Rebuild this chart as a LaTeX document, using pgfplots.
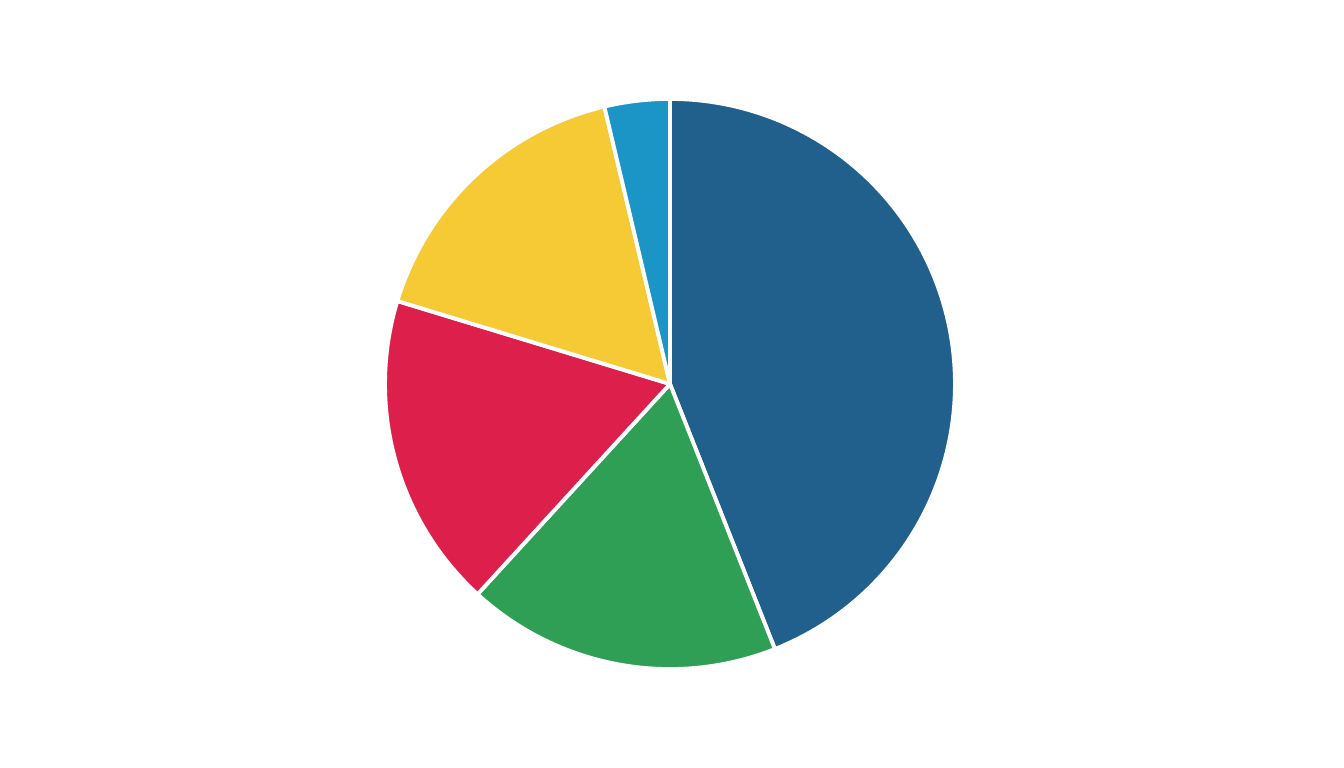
\documentclass[border=0pt]{standalone}
\usepackage{pgfplots}
\pgfplotsset{compat=1.18}

\definecolor{pblue}{HTML}{215F8D}
\definecolor{pgreen}{HTML}{2F9F55}
\definecolor{pred}{HTML}{DD1F4B}
\definecolor{pyellow}{HTML}{F5CA35}
\definecolor{plight}{HTML}{1A95C6}

% slice shares in percent, clockwise from 12 o'clock
\def\sA{44.0}
\def\sB{17.8}
\def\sC{17.9}
\def\sD{16.6}
\def\sE{3.7}

\pgfmathsetmacro\aA{90}
\pgfmathsetmacro\aB{\aA-3.6*\sA}
\pgfmathsetmacro\aC{\aB-3.6*\sB}
\pgfmathsetmacro\aD{\aC-3.6*\sC}
\pgfmathsetmacro\aE{\aD-3.6*\sD}
\pgfmathsetmacro\aF{\aE-3.6*\sE}

\begin{document}
\begin{tikzpicture}
\begin{axis}[
    width=13.44cm, height=7.68cm,
    scale only axis,
    hide axis,
    xmin=-2.351, xmax=2.365,
    ymin=-1.347, ymax=1.347,
    slice/.style={draw=white, line width=1.1pt, line join=round,
      data cs=polar, samples=120, mark=none},
    ]
\path (rel axis cs:0,0) rectangle (rel axis cs:1,1);
\addplot[slice, fill=pblue,   domain=\aA:\aB] {1} -- (axis cs:0,0) -- cycle;
\addplot[slice, fill=pgreen,  domain=\aB:\aC] {1} -- (axis cs:0,0) -- cycle;
\addplot[slice, fill=pred,    domain=\aC:\aD] {1} -- (axis cs:0,0) -- cycle;
\addplot[slice, fill=pyellow, domain=\aD:\aE] {1} -- (axis cs:0,0) -- cycle;
\addplot[slice, fill=plight,  domain=\aE:\aF] {1} -- (axis cs:0,0) -- cycle;
\end{axis}
\end{tikzpicture}
\end{document}
